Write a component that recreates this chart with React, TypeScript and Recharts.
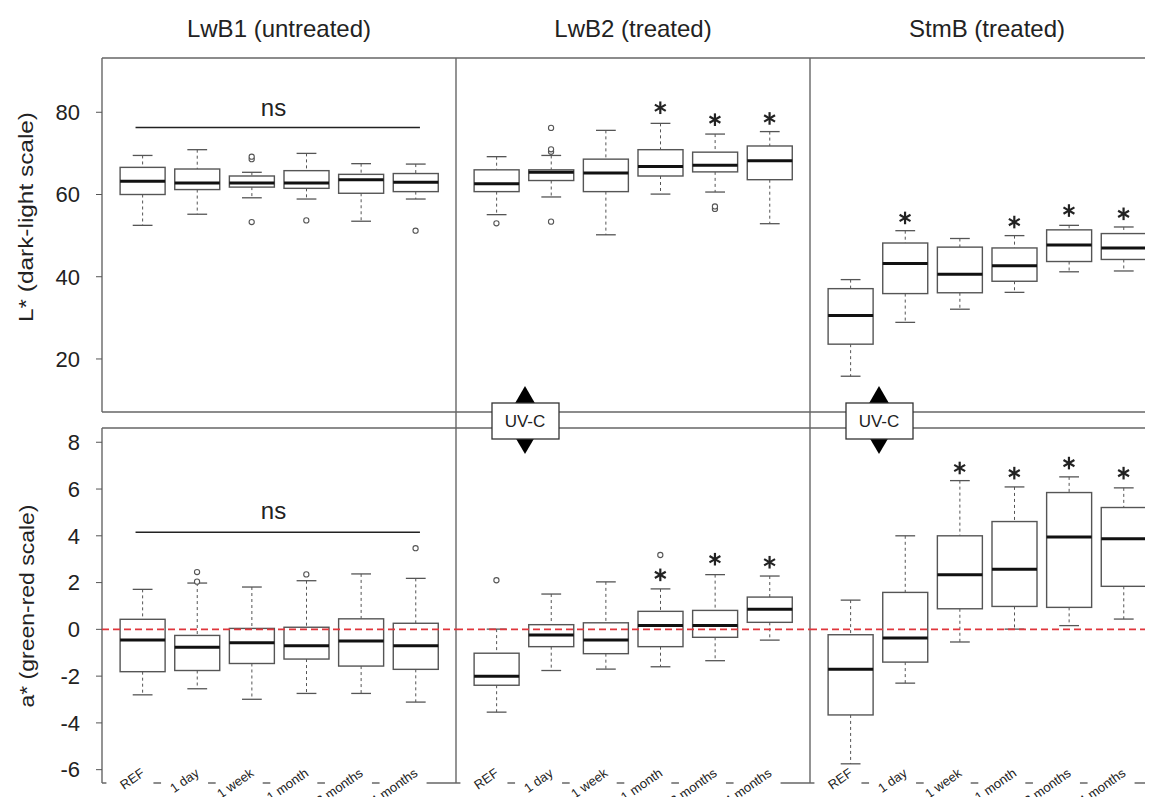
import React from 'react';
import { ComposedChart, Bar, Scatter, XAxis, YAxis, ReferenceLine, ReferenceDot } from 'recharts';

const categories = ['REF', '1 day', '1 week', '1 month', '2 months', '4 months'];

// box stats per time point: [min, q1, median, q3, max]
const lwb1L = [
  [52.5, 60.0, 63.2, 66.6, 69.5],
  [55.2, 61.2, 62.8, 66.2, 70.9],
  [59.2, 61.8, 62.8, 64.5, 65.4],
  [58.9, 61.5, 62.8, 65.8, 70.0],
  [53.5, 60.3, 63.6, 64.9, 67.5],
  [58.9, 60.7, 63.0, 65.1, 67.4],
];
const lwb2L = [
  [55.1, 60.7, 62.6, 66.0, 69.2],
  [59.4, 63.4, 65.4, 66.0, 69.5],
  [50.2, 60.7, 65.2, 68.6, 75.6],
  [60.1, 64.5, 66.8, 70.9, 77.3],
  [60.6, 65.5, 67.1, 70.3, 74.7],
  [52.9, 63.6, 68.2, 71.8, 75.3],
];
const stmbL = [
  [15.8, 23.6, 30.6, 37.1, 39.3],
  [28.9, 35.9, 43.2, 48.2, 51.2],
  [32.1, 36.1, 40.6, 47.2, 49.3],
  [36.2, 38.9, 42.7, 47.0, 50.0],
  [41.2, 43.7, 47.7, 51.4, 52.5],
  [41.4, 44.2, 47.0, 50.5, 52.1],
];
const lwb1A = [
  [-2.8, -1.81, -0.46, 0.43, 1.71],
  [-2.54, -1.76, -0.77, -0.26, 1.98],
  [-2.99, -1.46, -0.57, 0.04, 1.81],
  [-2.74, -1.27, -0.7, 0.09, 2.08],
  [-2.74, -1.57, -0.5, 0.45, 2.37],
  [-3.11, -1.71, -0.7, 0.26, 2.18],
];
const lwb2A = [
  [-3.54, -2.39, -2.0, -1.02, 0.01],
  [-1.76, -0.74, -0.24, 0.2, 1.51],
  [-1.7, -1.04, -0.46, 0.28, 2.03],
  [-1.6, -0.74, 0.16, 0.77, 1.73],
  [-1.34, -0.34, 0.16, 0.81, 2.34],
  [-0.46, 0.3, 0.86, 1.38, 2.28],
];
const stmbA = [
  [-5.75, -3.66, -1.71, -0.23, 1.25],
  [-2.3, -1.4, -0.37, 1.58, 4.0],
  [-0.54, 0.88, 2.34, 4.0, 6.36],
  [0.01, 0.98, 2.57, 4.61, 6.09],
  [0.16, 0.94, 3.95, 5.85, 6.52],
  [0.44, 1.84, 3.87, 5.21, 6.05],
];

// outliers: [time point (1-6), value]
const lwb1LOut = [[3, 68.6], [3, 69.2], [3, 53.3], [4, 53.7], [6, 51.2]];
const lwb2LOut = [[1, 53.0], [2, 76.2], [2, 70.4], [2, 71.0], [2, 53.4], [5, 56.5], [5, 57.1]];
const stmbLOut: number[][] = [];
const lwb1AOut = [[2, 2.45], [2, 2.04], [4, 2.35], [6, 3.47]];
const lwb2AOut = [[1, 2.1], [4, 3.18]];
const stmbAOut: number[][] = [];

// significance stars: [time point, height]
const lwb2LStars = [[4, 81.1], [5, 78.2], [6, 78.5]];
const stmbLStars = [[2, 54.3], [4, 53.3], [5, 56.1], [6, 55.3]];
const lwb2AStars = [[4, 2.33], [5, 3.0], [6, 2.87]];
const stmbAStars = [[3, 6.9], [4, 6.68], [5, 7.11], [6, 6.68]];

const titles = ['LwB1 (untreated)', 'LwB2 (treated)', 'StmB (treated)'];
const lTicks = [20, 40, 60, 80];
const aTicks = [-6, -4, -2, 0, 2, 4, 6, 8];

const panelLefts = [102, 456, 810];
const plotW = 354;
const rowTops = [58, 428];
const plotHs = [354, 355];
const xDomain = [0.26, 6.74];
const FRAME = '#666';

function BoxShape(props: any) {
  const { x, y, width, height, payload } = props;
  const yTop = Math.min(y, y + height);
  const yBot = Math.max(y, y + height);
  const [lo, q1, med, q3, hi] = payload.stats;
  const py = (v: number) => yBot - ((v - lo) / (hi - lo)) * (yBot - yTop);
  const cx = x + width / 2;
  const cap = width * 0.22;
  return (
    <g>
      <line x1={cx} x2={cx} y1={py(hi)} y2={py(q3)} stroke="#555" strokeDasharray="3 3" />
      <line x1={cx} x2={cx} y1={py(q1)} y2={py(lo)} stroke="#555" strokeDasharray="3 3" />
      <line x1={cx - cap} x2={cx + cap} y1={py(hi)} y2={py(hi)} stroke="#555" strokeWidth={1.3} />
      <line x1={cx - cap} x2={cx + cap} y1={py(lo)} y2={py(lo)} stroke="#555" strokeWidth={1.3} />
      <rect x={x} y={py(q3)} width={width} height={py(q1) - py(q3)} fill="#fff" stroke="#555" strokeWidth={1.4} />
      <line x1={x} x2={x + width} y1={py(med)} y2={py(med)} stroke="#111" strokeWidth={3} />
    </g>
  );
}

function OutlierShape(props: any) {
  return <circle cx={props.cx} cy={props.cy} r={2.6} fill="#fff" stroke="#555" strokeWidth={1.1} />;
}

function StarShape(props: any) {
  const { cx, cy } = props;
  const r = 6.3;
  const a = (deg: number) => (deg * Math.PI) / 180;
  return (
    <g stroke="#222" strokeWidth={2.2}>
      {[90, 30, 150].map((d) => (
        <line key={d} x1={cx - r * Math.cos(a(d))} y1={cy - r * Math.sin(a(d))} x2={cx + r * Math.cos(a(d))} y2={cy + r * Math.sin(a(d))} />
      ))}
    </g>
  );
}

function NsShape(props: any) {
  return (
    <text x={props.cx} y={props.cy} dy="0.35em" textAnchor="middle" fontSize={24} fill="#222">
      ns
    </text>
  );
}

function CatTick(props: any) {
  const { x, y, payload } = props;
  const label = categories[payload.value - 1];
  const tx = x + 3;
  const ty = y - 8;
  return (
    <g>
      <rect x={x - 36} y={y - 5} width={47} height={10} fill="#fff" />
      <text x={tx} y={ty} textAnchor="end" fontSize={13} fill="#222" transform={`rotate(-35 ${tx} ${ty})`}>
        {label}
      </text>
    </g>
  );
}

interface PanelProps {
  row: number;
  col: number;
  boxes: number[][];
  outliers: number[][];
  stars: number[][];
  ns?: { x1: number; x2: number; lineY: number; textX: number; textY: number };
}

function Panel({ row, col, boxes, outliers, stars, ns }: PanelProps) {
  const showY = col === 0;
  const showX = row === 1;
  const yDomain = row === 0 ? [7.1, 93.2] : [-6.57, 8.61];
  const yTicks = row === 0 ? lTicks : aTicks;
  const xAxisH = showX ? 22 : 0;
  const width = showY ? panelLefts[0] + plotW : plotW;
  const height = plotHs[row] + xAxisH;
  const left = showY ? 0 : panelLefts[col];

  const rows = boxes.map((s, i) => ({ x: i + 1, range: [s[0], s[4]], stats: s }));
  const outData = outliers.map(([t, v]) => ({ x: t, y: v }));
  const starData = stars.map(([t, v]) => ({ x: t, y: v }));

  return (
    <div style={{ position: 'absolute', left, top: rowTops[row] }}>
      <ComposedChart width={width} height={height} data={rows} margin={{ top: 0, right: 0, bottom: 0, left: 0 }}>
        <XAxis
          type="number"
          dataKey="x"
          domain={xDomain}
          allowDataOverflow
          ticks={[1, 2, 3, 4, 5, 6]}
          hide={!showX}
          height={xAxisH}
          axisLine={false}
          tickLine={false}
          tickSize={0}
          tickMargin={0}
          interval={0}
          tick={<CatTick />}
        />
        <YAxis
          type="number"
          domain={yDomain}
          allowDataOverflow
          ticks={yTicks}
          hide={!showY}
          width={showY ? panelLefts[0] : 0}
          axisLine={false}
          tickSize={6}
          tickMargin={16}
          tickLine={{ stroke: '#555' }}
          tick={{ fontSize: 22, fill: '#222' }}
          interval={0}
        />
        {row === 1 && <ReferenceLine y={0} stroke="#e0363c" strokeWidth={1.6} strokeDasharray="7 4" />}
        <Bar dataKey="range" barSize={45} shape={<BoxShape />} isAnimationActive={false} />
        {outData.length > 0 && <Scatter data={outData} dataKey="y" shape={<OutlierShape />} isAnimationActive={false} />}
        {starData.length > 0 && <Scatter data={starData} dataKey="y" shape={<StarShape />} isAnimationActive={false} />}
        {ns && (
          <ReferenceLine
            segment={[
              { x: ns.x1, y: ns.lineY },
              { x: ns.x2, y: ns.lineY },
            ]}
            stroke="#222"
            strokeWidth={1.5}
          />
        )}
        {ns && <ReferenceDot x={ns.textX} y={ns.textY} r={0} shape={<NsShape />} />}
      </ComposedChart>
    </div>
  );
}

export default function App() {
  const right = 1153;
  const frameLines = [
    [panelLefts[0], rowTops[0], right, rowTops[0]],
    [panelLefts[0], rowTops[0] + plotHs[0], right, rowTops[0] + plotHs[0]],
    [panelLefts[0], rowTops[1], right, rowTops[1]],
    [panelLefts[0], rowTops[1] + plotHs[1], right, rowTops[1] + plotHs[1]],
    [panelLefts[0], rowTops[0], panelLefts[0], rowTops[0] + plotHs[0]],
    [panelLefts[0], rowTops[1], panelLefts[0], rowTops[1] + plotHs[1]],
    [panelLefts[1], rowTops[0], panelLefts[1], rowTops[1] + plotHs[1]],
    [panelLefts[2], rowTops[0], panelLefts[2], rowTops[1] + plotHs[1]],
  ];
  const uvc = [525, 879];

  return (
    <div
      style={{
        position: 'relative',
        width: 1153,
        height: 805,
        margin: -8,
        overflow: 'hidden',
        background: '#fff',
        fontFamily: '"Liberation Sans", Arial, sans-serif',
      }}
    >
      <svg width={1153} height={805} style={{ position: 'absolute', left: 0, top: 0 }}>
        {frameLines.map(([x1, y1, x2, y2], i) => (
          <line key={i} x1={x1} y1={y1} x2={x2} y2={y2} stroke={FRAME} strokeWidth={1.4} />
        ))}
      </svg>

      <Panel row={0} col={0} boxes={lwb1L} outliers={lwb1LOut} stars={[]} ns={{ x1: 0.874, x2: 6.08, lineY: 76.3, textX: 3.4, textY: 81.2 }} />
      <Panel row={0} col={1} boxes={lwb2L} outliers={lwb2LOut} stars={lwb2LStars} />
      <Panel row={0} col={2} boxes={stmbL} outliers={stmbLOut} stars={stmbLStars} />
      <Panel row={1} col={0} boxes={lwb1A} outliers={lwb1AOut} stars={[]} ns={{ x1: 0.874, x2: 6.08, lineY: 4.15, textX: 3.4, textY: 5.07 }} />
      <Panel row={1} col={1} boxes={lwb2A} outliers={lwb2AOut} stars={lwb2AStars} />
      <Panel row={1} col={2} boxes={stmbA} outliers={stmbAOut} stars={stmbAStars} />

      <svg width={1153} height={805} style={{ position: 'absolute', left: 0, top: 0, pointerEvents: 'none' }}>
        {titles.map((t, i) => (
          <text key={t} x={panelLefts[i] + plotW / 2} y={37} textAnchor="middle" fontSize={24} fill="#222">
            {t}
          </text>
        ))}
        <text x={26} y={217} transform="rotate(-90 26 217)" textAnchor="middle" dy="0.35em" fontSize={21} fill="#222" textLength={210} lengthAdjust="spacingAndGlyphs">
          L* (dark-light scale)
        </text>
        <text x={27} y={606} transform="rotate(-90 27 606)" textAnchor="middle" dy="0.35em" fontSize={21} fill="#222" textLength={203} lengthAdjust="spacingAndGlyphs">
          a* (green-red scale)
        </text>
        {uvc.map((cx) => (
          <g key={cx}>
            <polygon points={`${cx - 11},405 ${cx + 11},405 ${cx},386`} fill="#000" />
            <polygon points={`${cx - 10},437 ${cx + 10},437 ${cx},454`} fill="#000" />
            <rect x={cx - 33} y={403} width={67} height={36} fill="#fff" stroke="#333" strokeWidth={1.3} />
            <text x={cx} y={421} dy="0.35em" textAnchor="middle" fontSize={17} fill="#222">
              UV-C
            </text>
          </g>
        ))}
      </svg>
    </div>
  );
}
